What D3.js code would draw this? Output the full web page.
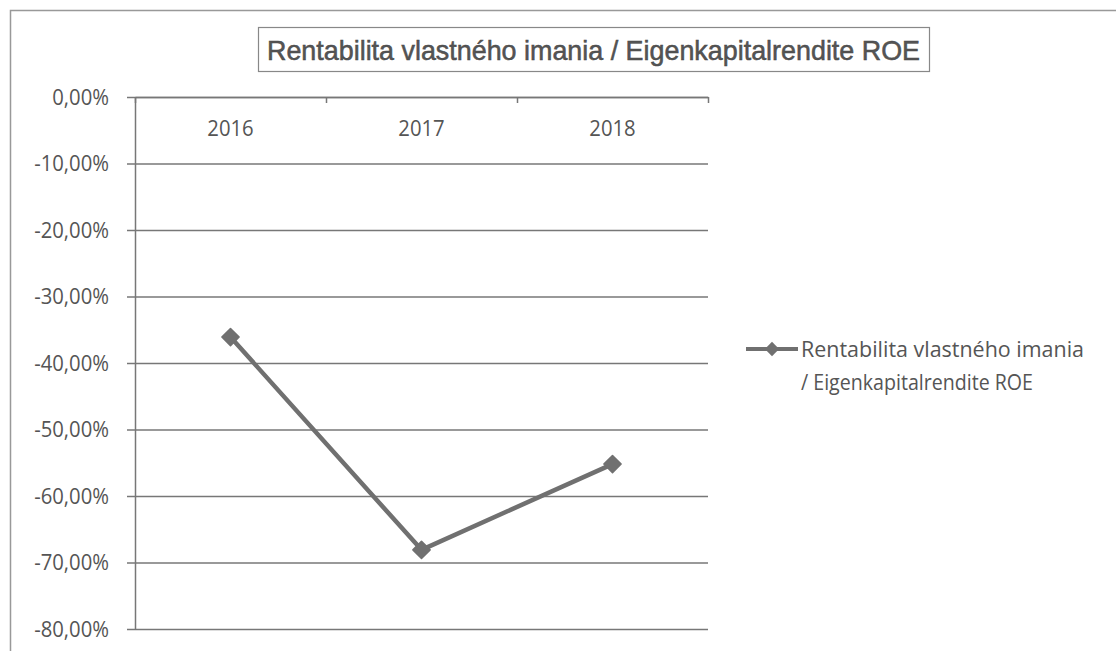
<!DOCTYPE html>
<html>
  <head>
    <title>Rentabilita vlastného imania / Eigenkapitalrendite ROE</title>
    <script src="https://d3js.org/d3.v7.min.js"></script>
    <style>
      body {
        margin: 0;
        background-color: white;
      }

      svg text {
        fill: #555;
      }

      .axis path,
      .axis line {
        stroke: #777;
      }
    </style>
  </head>
  <body>
    <script>
      const years = ['2016', '2017', '2018'];
      const roe = [-36.1, -68.1, -55.2];
      const yTicks = [0, -10, -20, -30, -40, -50, -60, -70, -80];
      const title = 'Rentabilita vlastného imania / Eigenkapitalrendite ROE';
      const legendLines = ['Rentabilita vlastného imania', '/ Eigenkapitalrendite ROE'];

      const w = 1116;
      const h = 651;
      const plotLeft = 135;
      const plotRight = 708;
      const plotTop = 97;
      const plotBottom = 629;
      const grey = '#707070';

      const svg = d3.select('body')
                    .append('svg')
                    .attr('width', w)
                    .attr('height', h);

      // calibri-ish look: taller font, squeezed a little
      const squeeze = (sel, k) => sel.each(function() {
        const len = this.getComputedTextLength();
        d3.select(this).attr('textLength', len * k).attr('lengthAdjust', 'spacingAndGlyphs');
      });

      // outer chart frame (bottom and right are cut off in the picture)
      svg.append('path')
         .attr('d', `M10.5,${h} V10.5 H${w}`)
         .attr('fill', 'none')
         .attr('stroke', '#999')
         .attr('stroke-width', 1.5);

      const xScale = d3.scaleBand()
                       .domain(years)
                       .range([plotLeft, plotRight]);

      const yScale = d3.scaleLinear()
                       .domain([-80, 0])
                       .range([plotBottom, plotTop]);

      // excel style: hyphen minus, decimal comma
      const pct = d => (d < 0 ? '-' : '') + Math.abs(d).toFixed(2).replace('.', ',') + '%';

      // gridlines
      svg.append('g')
         .attr('class', 'axis grid')
         .attr('transform', `translate(${plotLeft}, 0)`)
         .call(d3.axisLeft(yScale).tickValues(yTicks).tickSize(-(plotRight - plotLeft)).tickFormat(''))
         .call(g => g.select('.domain').remove())
         .selectAll('line')
         .attr('stroke-width', 1.5);

      // y axis
      svg.append('g')
         .attr('class', 'axis')
         .attr('transform', `translate(${plotLeft}, 0)`)
         .call(d3.axisLeft(yScale).tickValues(yTicks).tickSize(8).tickSizeOuter(0).tickPadding(18).tickFormat(pct))
         .call(g => g.selectAll('path, line').attr('stroke-width', 1.5))
         .call(g => g.selectAll('text')
                     .attr('font-family', 'Open Sans')
                     .attr('font-size', 22.5)
                     .attr('fill', '#555')
                     .call(squeeze, 0.9));

      // category axis at zero, ticks between categories
      const boundary = d3.scaleLinear().domain([0, years.length]).range([plotLeft, plotRight]);
      svg.append('g')
         .attr('class', 'axis')
         .attr('transform', `translate(0, ${yScale(0)})`)
         .call(d3.axisBottom(boundary).ticks(years.length).tickSize(6).tickSizeOuter(0).tickFormat(''))
         .call(g => g.selectAll('path, line').attr('stroke-width', 1.5));

      svg.append('g')
         .attr('transform', `translate(0, ${yScale(0)})`)
         .call(d3.axisBottom(xScale).tickSize(0).tickPadding(23))
         .call(g => g.select('.domain').remove())
         .call(g => g.selectAll('text')
                     .attr('font-family', 'Open Sans')
                     .attr('font-size', 22.5)
                     .attr('fill', '#555')
                     .call(squeeze, 0.9));

      // series
      const points = years.map((y, i) => [xScale(y) + xScale.bandwidth() / 2, yScale(roe[i])]);

      svg.append('path')
         .datum(points)
         .attr('d', d3.line())
         .attr('fill', 'none')
         .attr('stroke', grey)
         .attr('stroke-width', 4.5)
         .attr('stroke-linejoin', 'round');

      const diamond = d3.symbol().type(d3.symbolDiamond2).size(190);

      svg.selectAll('.marker')
         .data(points)
         .enter()
         .append('path')
         .attr('class', 'marker')
         .attr('d', diamond)
         .attr('transform', d => `translate(${d[0]}, ${d[1]})`)
         .attr('fill', grey)
         .attr('stroke', grey)
         .attr('stroke-width', 1.5)
         .attr('stroke-linejoin', 'round');

      // title, narrow font squeezed into the box like the original
      svg.append('rect')
         .attr('x', 258.5)
         .attr('y', 27.5)
         .attr('width', 671)
         .attr('height', 44)
         .attr('fill', 'white')
         .attr('stroke', '#888')
         .attr('stroke-width', 1.2);

      svg.append('text')
         .attr('x', 267)
         .attr('y', 60)
         .attr('textLength', 653)
         .attr('lengthAdjust', 'spacingAndGlyphs')
         .attr('font-family', 'Liberation Sans')
         .attr('font-size', 28)
         .attr('fill', '#444')
         .attr('stroke', '#444')
         .attr('stroke-width', 0.5)
         .text(title);

      // legend
      const legend = svg.append('g')
                        .attr('transform', 'translate(746, 349)');

      legend.append('line')
            .attr('x1', 0)
            .attr('x2', 52)
            .attr('stroke', grey)
            .attr('stroke-width', 4);

      legend.append('path')
            .attr('d', d3.symbol().type(d3.symbolDiamond2).size(130))
            .attr('transform', 'translate(26, 0)')
            .attr('fill', grey);

      legend.selectAll('text')
            .data(legendLines)
            .enter()
            .append('text')
            .attr('x', 55)
            .attr('y', (d, i) => 8 + i * 33)
            .attr('font-family', 'Open Sans')
            .attr('font-size', 22.5)
            .attr('textLength', (d, i) => i === 0 ? 283 : 232)
            .attr('lengthAdjust', 'spacingAndGlyphs')
            .attr('fill', '#555')
            .text(d => d);
    </script>
  </body>
</html>
